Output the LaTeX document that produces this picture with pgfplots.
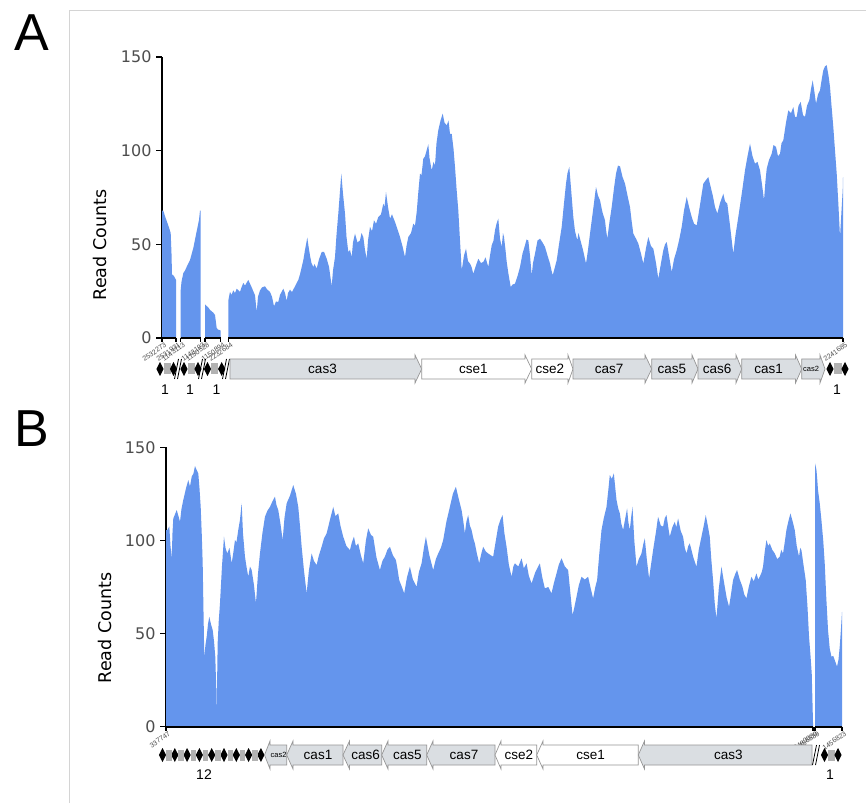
\documentclass[border=0pt]{standalone}
\usepackage{pgfplots}
\pgfplotsset{compat=1.18}
\usepackage{fontspec}
\setmainfont{Liberation Sans}
\newfontfamily\axfont{DejaVu Sans}

\definecolor{cover}{RGB}{100,149,237}
\definecolor{geneg}{RGB}{218,222,226}
\definecolor{geneedge}{RGB}{150,150,150}
\definecolor{spacer}{RGB}{178,178,178}
\definecolor{tickgray}{RGB}{77,77,77}
\definecolor{framegray}{RGB}{212,212,212}

% gene arrows in page pixels (y grows downwards inside the track scope)
\newcommand{\geneR}[6]{% start, head start, tip, y, fill, label
  \draw[geneedge, line width=0.7pt, fill=#5] (#1,#4-10) -- (#2,#4-10) -- (#2,#4-14) -- (#3,#4) -- (#2,#4+14) -- (#2,#4+10) -- (#1,#4+10) -- cycle;
  \node[font=\fontsize{13.5}{14}\selectfont] at ({(#1+#2)/2},#4) {#6};}
\newcommand{\geneL}[6]{% tip, head end, end, y, fill, label
  \draw[geneedge, line width=0.7pt, fill=#5] (#3,#4-10) -- (#2,#4-10) -- (#2,#4-14) -- (#1,#4) -- (#2,#4+14) -- (#2,#4+10) -- (#3,#4+10) -- cycle;
  \node[font=\fontsize{13.5}{14}\selectfont] at ({(#2+#3)/2},#4) {#6};}
\newcommand{\rep}[2]{\fill[black] (#1,#2-7) -- (#1+3.6,#2) -- (#1,#2+7) -- (#1-3.6,#2) -- cycle;}
\newcommand{\spc}[3]{\fill[spacer] (#1,#3-5.5) rectangle (#2,#3+5.5);}
\newcommand{\brk}[2]{\draw[black, line width=0.8pt] (#1-3,#2+10) -- (#1+1,#2-10) (#1,#2+10) -- (#1+4,#2-10);}
% one piece of the broken x axis, with its end ticks
\newcommand{\xseg}[2]{%
  \draw[black, line width=1.6pt] (axis cs:#1,0) -- (axis cs:#2,0);
  \draw[black, line width=1.2pt] (axis cs:#1,0) -- ++(0,-4pt) (axis cs:#2,0) -- ++(0,-4pt);}

\tikzset{xl/.style={font=\fontsize{7}{7}\selectfont, text=tickgray, rotate=35, anchor=north east, inner sep=0.5pt}}
\pgfplotsset{
  cov/.style={
    scale only axis, width=681pt, height=281pt,
    xmin=0, xmax=681, ymin=0, ymax=150, clip=false,
    axis x line=none, axis y line*=left,
    axis line style={line width=1.6pt, black},
    ytick={0,50,100,150}, ytick pos=left, tick align=outside,
    major tick length=6pt,
    every tick/.style={black, line width=1.4pt},
    yticklabel style={font=\axfont\fontsize{16}{16}\selectfont, text=tickgray, xshift=-1pt},
    /pgf/number format/assume math mode=true,
  },
  seg/.style={fill=cover, draw=none},
}

\begin{document}
\begin{tikzpicture}
\useasboundingbox (0,0) rectangle (866pt,803pt);
\fill[white] (0,0) rectangle (866pt,803pt);

% ---------------- panel A ----------------
\begin{axis}[cov, at={(162pt,465pt)}, anchor=south west]
\addplot[seg] coordinates {(0,68) (1.3,68) (3,65) (5,62) (7,59) (8.7,56) (9.5,45) (10,34) (12,33) (14,31)} \closedcycle;
\addplot[seg] coordinates {(18.7,25.6) (19.5,30) (21.3,34.6) (23,36) (24.7,38) (28,41.6) (31.3,48) (34.7,57) (37,63) (38,68) (38.7,68)} \closedcycle;
\addplot[seg] coordinates {(43,18) (44.7,17) (46,16.5) (48,15) (51.3,13.5) (53,12.3) (54.7,5.3) (56,4.5) (58.7,4)} \closedcycle;
\addplot[seg] coordinates {
(66.3,20) (68,24.6) (69.5,23) (71.3,25.4) (73,24) (74.7,26.3) (78,24.6) (79.5,27) (81.3,29.4) (83,28) (86.3,31) (89.7,27) (93,22.8) (94.7,13.9)
(96,22) (98,25.4) (100,27) (103,27.6) (105,26) (108,24.6) (110,22) (112,16.9) (114,19.5) (116.3,19.2) (118,23) (121.3,26.3) (123,24) (124.7,19.8) (126,24) (128,25.8) (130,24.5) (133,27.6) (136.3,31)
(138,34) (141.3,41.5) (143,47) (145.3,53.6) (146.5,49) (148,44) (149.5,40) (151.3,37.9) (152.5,39.5) (154.7,37) (157,42) (159.7,45.9) (162,46) (164.7,42.3) (167,38) (169.7,27.6) (171,36) (173,43.2) (174.5,55) (176.3,66.4)
(177.8,77) (179.3,87.7) (181,77) (183,66.4) (184.5,54) (186.3,45.9) (188,47) (189.7,43.2) (191,51) (193,55.7) (195.5,51) (198,52.1) (199.5,56) (201.3,53.9) (203,47) (204.7,42.3) (206,52) (208,59.3) (210,57) (212,62.8)
(214,61) (216.3,64.6) (219,66) (221.3,71.7) (222.5,70) (224,77.9) (226,70) (228,63.7) (230,66) (233,61.9) (235.5,58) (238,53.9) (240.5,49) (243,43.2) (244.5,49) (246.3,53.9) (249,56) (251.3,61) (253,60) (254.7,67.3)
(256.5,79) (258,87.7) (259.5,87) (261.3,95.7) (263,97) (266.3,103.4) (267.5,96) (269.7,89.5) (271.5,94) (273,92.2) (274.5,104) (276.3,110.9) (278.5,116) (280.7,119.8) (282.5,115) (284.7,113.5) (286.5,116) (288,109) (289.7,109) (291.5,101) (293,91.3)
(294.5,80) (296.3,68.1) (298,52) (299.7,36.1) (302,44) (304,47.7) (306,41) (308,39.7) (309.5,38) (311.3,34.3) (313.5,38) (316.3,42.3) (319,40) (321.3,40.6) (323.5,43) (326.3,37.9) (328,44) (329.7,49.5) (331.5,52) (333,57.5)
(334.5,61) (336.3,63.7) (338,53) (339.7,48.6) (341,56) (342,53.9) (343.5,47) (344.7,40.6) (346.5,34) (348.7,27.2) (350.5,28.5) (353,29) (355.5,33) (358,37.9) (360.5,45) (363,49.5) (364.5,52.5) (366.3,52.1) (368,44) (369.7,33.5)
(371,40) (373,45) (375.5,52) (378,53) (380.5,51) (383,48.6) (385.5,44) (388,39.7) (389.5,36) (390.7,33.5) (392.5,37) (394.7,41.5) (397,50) (399.7,59.3) (402,72) (404,82.4) (405.5,88) (407.3,91.3) (409,80) (411.3,64.6)
(413,57) (415.3,52.1) (416.5,56) (418,53) (421,47) (424,39.7) (426,47) (428,55.7) (431,68) (434,80.6) (436,76) (438,73.5) (440.5,67) (443,62.8) (444,58) (445.3,53) (447.5,62) (449.7,69.9) (452,80) (454,87.7)
(456,92) (458,91.6) (460.5,86) (463,82.4) (465.5,76) (468,69.9) (469.5,63) (471.3,55.7) (474,53) (476.3,50.4) (479,45) (481.3,39.7) (484,48) (486.3,53.9) (489,49) (491.3,47.7) (494,40) (496.3,31.7) (499,40) (501.3,46.8)
(503,50) (504.7,51.2) (507,44) (509.7,35.2) (512,42) (514.7,46.8) (517,52) (519.7,59.3) (522,68) (524.7,75.3) (527,70) (529.7,64.6) (532,61) (534.7,60.1) (538,71) (541.3,82.4) (543.5,84) (546.3,85.9) (548.5,81) (550.7,76.2)
(553,70) (555.3,66.4) (558,72) (561.3,77) (563,73) (565.3,71.7) (568,60) (571.3,45) (573.5,55) (576.3,64.6) (580,78) (583,89.5) (585.5,97) (588,103.7) (590.5,97) (593,93.1) (595.5,94) (598,89.5) (600,82) (602,73.5)
(603.5,84) (604.7,90.4) (607,95) (609.7,98.4) (611.5,103) (614,102) (616,97) (618,98.4) (619.5,104) (621.3,105.5) (624,115) (626.3,121.5) (629,120) (631.3,123.3) (633,118) (634.7,118) (636.5,124) (638.7,126) (641,119) (643,118)
(645,124) (647.3,126.9) (649,133) (650.7,137.5) (652.5,131) (654,125.1) (656,130) (658,132.2) (660,139) (661.3,142.9) (663,145) (664.7,145.6) (666.5,140) (668,134) (669.5,124) (671.3,112.6) (673,100) (674.7,87.7) (676.5,70) (678,53.9)
(679.5,68) (680.7,78.8) (681,85.9)} \closedcycle;
% broken x axis
\xseg{0}{14}
\xseg{18.7}{38.7}
\xseg{43}{58.7}
\xseg{66.3}{681}
\node[xl] at (axis cs:0,0) [yshift=-4pt] {2532273};
\node[xl] at (axis cs:14,0) [yshift=-4pt] {2531931};
\node[xl] at (axis cs:18.7,0) [yshift=-4pt] {1143113};
\node[xl] at (axis cs:38.7,0) [yshift=-4pt] {1143193};
\node[xl] at (axis cs:43,0) [yshift=-4pt] {1150528};
\node[xl] at (axis cs:58.7,0) [yshift=-4pt] {1150894};
\node[xl] at (axis cs:66.3,0) [yshift=-4pt] {2232684};
\node[xl] at (axis cs:681,0) [yshift=-4pt] {2241685};
\end{axis}

% ---------------- panel B ----------------
\begin{axis}[cov, width=676pt, height=279.4pt, xmax=676.3, at={(166pt,76.3pt)}, anchor=south west]
\addplot[seg] coordinates {
(0,105.6) (1.3,105.6) (3.3,107.4) (4.5,97) (5.7,90.4) (6.5,104) (7.3,111.8) (9,114) (10.7,116.3) (12.5,113) (14,110) (15.5,117) (17.3,121.7) (20,128) (22.3,132.4) (24,129) (25.7,134.2)
(27.5,136) (29,139.9) (30.5,138) (32.3,136) (33.5,128) (34.7,118) (35.8,103) (36.7,87.7) (37.5,62) (38.3,37.6) (39.5,44) (40.7,48.3) (42,55) (43.3,59) (45,55) (46.7,51.9) (48,46) (49.3,37.6) (50.3,20)
(50.7,5.4) (51,20) (51.7,45) (52.8,57) (54,66.2) (56,86) (58,102) (59.5,96) (61.3,93) (63.5,96) (65.7,87.7) (67.5,94) (69,100.2) (70.5,99) (72.3,105.6) (74,111) (75.7,119.9)
(77,104) (79,91.3) (80.5,86) (82.3,80.5) (84,86) (85.7,84.1) (88,76) (90,66.2) (92,82) (94,93) (96.5,104) (99,112.7) (101.5,116) (104,118) (106.5,121) (109,123.5) (110.5,119) (112.3,116.3) (114.5,109) (116.7,100.2)
(118.5,112) (120.7,119.9) (124,124) (127.3,129.7) (130,125) (132.3,118) (134,108) (135.7,96.6) (138,84) (140.7,71.6) (143,84) (145.7,93) (148,89) (150.7,86.8) (153,92) (155.7,96.6) (158,101) (160.7,103.8) (164,111) (167.3,118)
(169.5,113) (172.3,114.5) (174.5,108) (177.3,102) (180.5,97) (184,94.8) (186,99) (188,102) (190,97) (192.3,98.4) (195,92) (197.3,87.7) (200,100) (202.3,106.5) (205,103) (207.3,102) (210.5,91) (214,84.1) (216.5,89) (219,91.3)
(221.5,95) (224,96.6) (227,92) (230,89.5) (231.5,85) (233.3,78.7) (236,75) (238.3,71.6) (241,80) (244,85.9) (247,79) (250.7,75.1) (253,83) (255.7,87.7) (258,96) (260,102) (263.5,92) (267.3,84.1) (270,90) (272.3,93)
(275,96) (277.3,100.2) (280.5,110) (284,118) (287,125) (290,128.8) (293,122) (295.7,116.3) (297.5,110) (299,103.8) (300.5,110) (302.3,113.6) (304,108) (305.7,105.6) (307.5,101) (309,98.4) (311,93) (313.3,87.7) (315.5,93) (317.3,96.6)
(320,94) (322.3,93) (325,92) (327.3,91.3) (330,100) (332.3,107.4) (334.5,111) (336.7,113.6) (338.5,104) (340.7,96.6) (343,87) (345.7,80.5) (347.5,86) (349,87.7) (352.5,86) (355.7,90.4) (358,85) (360.7,87.7) (363,81) (365.7,76.9)
(369.5,83) (374,87.7) (376.5,80) (379,74.3) (382.5,75) (385.7,71.6) (388,77) (390.7,82.3) (393,87) (395.7,90.4) (399,86) (402.3,84.1) (404.5,72) (406.7,59.9) (408.5,64) (410.7,69.8) (413,76) (415.7,80.5) (419,79) (422.3,80.5)
(425,74) (427.3,68.9) (429.5,75) (431.3,78.7) (433.5,93) (435.7,105.6) (438,112) (440.7,118) (442.5,127) (444,135.1) (446,133) (448,136) (449.5,128) (450.7,121.7) (452.5,117) (454,114.5) (455.5,109) (457.3,105.6) (459.5,112) (461.3,117.2)
(462.5,110) (464,105.6) (465.5,113) (466.7,118) (468.5,100) (470.7,85.9) (473,90) (475.7,93) (477.5,98) (479,101.1) (481,90) (483.3,79.6) (485.5,88) (487.3,94.8) (490,104) (492.3,112.7) (495,108) (497.3,107.4) (499,112) (500.7,113.6)
(502.5,107) (504,102) (506.5,107) (509,110) (510.5,107) (512.3,111.8) (515,105) (517.3,102) (519,96) (520.7,93) (522.5,97) (524,98.4) (527.5,91) (530.7,85.9) (533,95) (535.7,102) (538,108) (540,113.6) (542,108) (544,102)
(545.5,90) (547.3,78.7) (549,66) (550.7,58.1) (553,74) (555.7,85.9) (557.5,80) (559,75.1) (561,69) (563.3,64.4) (565.5,72) (567.3,78.7) (569.5,82) (571.3,84.1) (574,79) (576.7,75.1) (578.5,71) (580.7,68.9) (583,75) (585.7,80.5)
(588,78) (590.7,82.3) (592.5,79) (594,80.5) (596,83) (597.3,85.9) (599,94) (600.7,100.2) (602.5,97) (604,98.4) (606.5,95) (609,93) (611.5,90) (614,91.3) (615.5,95) (617.3,93) (619,99) (620.7,105.6) (622.5,110) (624.7,114.5)
(627,110) (629,105.6) (631,97) (633.3,91.3) (634.5,96) (635.7,94.8) (638,86) (640,78.7) (641.8,64) (643.3,48.3) (644.8,38) (646,28.6) (647.3,1.8)} \closedcycle;
\addplot[seg] coordinates {(649.3,141.4) (650.7,138) (651.5,133) (652.3,127) (654,120) (655.7,110.9) (657.5,100) (659,87.7) (660.5,70) (662.3,51.9) (664,42) (665.7,37.6) (667.5,38) (669,35.8) (670.2,34) (671.3,32.2) (672.8,36) (674,42.9) (675.2,52) (676.3,61.7)} \closedcycle;
\xseg{0}{647.3}
\xseg{649.3}{676.3}
\node[xl] at (axis cs:0,0) [yshift=-4pt] {337747};
\node[xl] at (axis cs:647.3,0) [yshift=-4pt] {3480080};
\node[xl] at (axis cs:649.3,0) [yshift=-4pt] {1456539};
\node[xl] at (axis cs:676.3,0) [yshift=-4pt] {1456823};
\end{axis}

% ---------------- frame, labels and gene tracks ----------------
\begin{scope}[x=1pt, y=-1pt, shift={(0pt,803pt)}]
\draw[framegray, line width=1pt] (69.5,803) -- (69.5,10.5) -- (866,10.5);
\node[font=\fontsize{52}{52}\selectfont, anchor=center] at (32,33) {A};
\node[font=\fontsize{52}{52}\selectfont, anchor=center] at (32,429) {B};
\node[font=\axfont\fontsize{17.5}{18}\selectfont, rotate=90] at (100,245) {Read Counts};
\node[font=\axfont\fontsize{17.5}{18}\selectfont, rotate=90] at (105,628) {Read Counts};

% track A
\rep{160}{369} \spc{163.5}{170.5}{369} \rep{173.5}{369} \brk{177.5}{369}
\rep{184}{369} \spc{187.5}{195}{369} \rep{198}{369} \brk{201.5}{369}
\rep{207.5}{369} \spc{211}{218.3}{369} \rep{221.7}{369} \brk{225.5}{369}
\geneR{230}{415}{421.7}{369}{geneg}{cas3}
\geneR{421.7}{525}{531.7}{369}{white}{cse1}
\geneR{531.7}{568}{573}{369}{white}{cse2}
\geneR{573}{645}{651.7}{369}{geneg}{cas7}
\geneR{651.7}{692}{698}{369}{geneg}{cas5}
\geneR{698}{736}{741.7}{369}{geneg}{cas6}
\geneR{741.7}{795.5}{801.7}{369}{geneg}{cas1}
\draw[geneedge, line width=0.7pt, fill=geneg] (801.7,359) -- (820,359) -- (820,355) -- (825,369) -- (820,383) -- (820,379) -- (801.7,379) -- cycle;
\node[font=\fontsize{7.5}{8}\selectfont] at (811,369) {cas2};
\rep{830}{369} \spc{833.5}{841.5}{369} \rep{845}{369}
\node[font=\fontsize{14}{14}\selectfont] at (165,390) {1};
\node[font=\fontsize{14}{14}\selectfont] at (190,390) {1};
\node[font=\fontsize{14}{14}\selectfont] at (216.5,390) {1};
\node[font=\fontsize{14}{14}\selectfont] at (837,390) {1};

% track B
\foreach \k in {0,...,8}{\rep{162.5+12.3*\k}{755}}
\foreach \k in {0,...,7}{\spc{166+12.3*\k}{171.5+12.3*\k}{755}}
\draw[geneedge, line width=0.7pt, fill=geneg] (286.7,745) -- (270,745) -- (270,741) -- (264.5,755) -- (270,769) -- (270,765) -- (286.7,765) -- cycle;
\node[font=\fontsize{7.5}{8}\selectfont] at (278.5,755) {cas2};
\geneL{286.7}{293}{343}{755}{geneg}{cas1}
\geneL{343}{349.5}{381.7}{755}{geneg}{cas6}
\geneL{381.7}{388}{426.7}{755}{geneg}{cas5}
\geneL{426.7}{433}{495}{755}{geneg}{cas7}
\geneL{495}{501}{536.7}{755}{white}{cse2}
\geneL{536.7}{543}{638.3}{755}{white}{cse1}
\geneL{638.3}{644.5}{812}{755}{geneg}{cas3}
\brk{815.5}{755}
\rep{824.5}{755} \spc{828}{834.5}{755} \rep{838}{755}
\node[font=\fontsize{14}{14}\selectfont] at (204,775) {12};
\node[font=\fontsize{14}{14}\selectfont] at (830,775) {1};
\end{scope}
\end{tikzpicture}
\end{document}
